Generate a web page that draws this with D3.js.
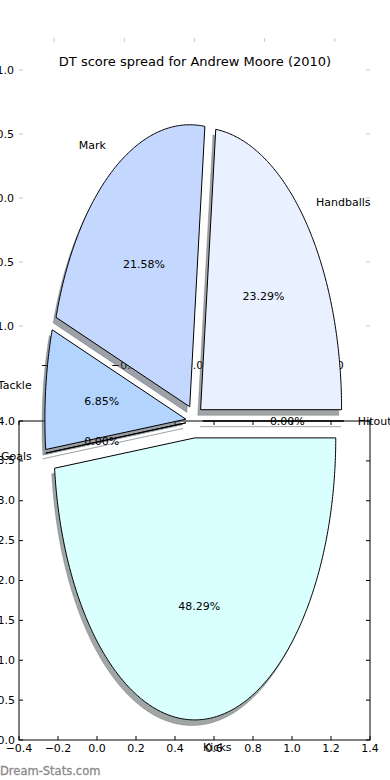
<!DOCTYPE html>
<html lang="en">
<head>
    <meta charset="UTF-8">
    <title>DT score spread</title>
    <script src="https://cdn.jsdelivr.net/npm/d3@7"></script>
    <style>
        body { margin: 0; background: #fff; }
        text { font-family: "DejaVu Sans", sans-serif; }
    </style>
</head>
<body>
<script>
    // pie data (percent of DT score), matplotlib order: counter-clockwise from 3 o'clock
    const categories = ['Handballs', 'Mark', 'Tackle', 'Goals', 'Kicks', 'Hitout']
    const shares = [23.29, 21.58, 6.85, 0.00, 48.29, 0.00]
    const colors = ['#e9f0ff', '#c4d8ff', '#b3d4ff', '#b3d4ff', '#d9ffff', '#d9ffff']
    const explode = 0.06

    // tick labels
    const upperTicks = [-1.0, -0.5, 0.0, 0.5, 1.0]
    const lowerXTicks = [-0.4, -0.2, 0.0, 0.2, 0.4, 0.6, 0.8, 1.0, 1.2, 1.4]
    const lowerYTicks = [0.0, 0.5, 1.0, 1.5, 2.0, 2.5, 3.0, 3.5, 4.0]

    const [width, height] = [390, 780]
    const fs = 11
    const fmt = d3.format('.1f')
    const minus = s => s.replace('-', '\u2212')

    const svg = d3.select('body').append('svg')
        .attr('width', width)
        .attr('height', height)

    // upper (frameless) axes
    const ux = d3.scaleLinear().domain([-1.25, 1.25]).range([19, 370])
    const uy = d3.scaleLinear().domain([-1.25, 1.25]).range([358, 38])
    const upper = svg.append('g')
    upper.selectAll('line.ty').data(upperTicks).enter().append('line')
        .attr('x1', d => ux(d)).attr('x2', d => ux(d))
        .attr('y1', uy(1.25)).attr('y2', uy(1.25) + 4)
        .attr('stroke', '#c8c8c8')
    upper.selectAll('line.ly').data(upperTicks).enter().append('line')
        .attr('x1', ux(-1.25)).attr('x2', ux(-1.25) + 4)
        .attr('y1', d => uy(d)).attr('y2', d => uy(d))
        .attr('stroke', '#c8c8c8')
    upper.selectAll('line.ry').data(upperTicks).enter().append('line')
        .attr('x1', ux(1.25) - 4).attr('x2', ux(1.25))
        .attr('y1', d => uy(d)).attr('y2', d => uy(d))
        .attr('stroke', '#c8c8c8')
    upper.selectAll('text.yl').data(upperTicks).enter().append('text')
        .attr('x', ux(-1.25) - 5).attr('y', d => uy(d))
        .attr('text-anchor', 'end').attr('dominant-baseline', 'central')
        .attr('font-size', fs).text(d => minus(fmt(d)))
    upper.selectAll('text.xl').data(upperTicks).enter().append('text')
        .attr('x', d => ux(d)).attr('y', uy(-1.25) + 11)
        .attr('text-anchor', 'middle')
        .attr('font-size', fs).text(d => minus(fmt(d)))

    // lower (empty) axes
    const lx = d3.scaleLinear().domain([-0.4, 1.4]).range([19, 370])
    const ly = d3.scaleLinear().domain([0, 4]).range([740, 421])
    const lower = svg.append('g')
    lower.append('rect')
        .attr('x', lx(-0.4)).attr('y', ly(4))
        .attr('width', lx(1.4) - lx(-0.4)).attr('height', ly(0) - ly(4))
        .attr('fill', 'none').attr('stroke', '#000')
    lowerXTicks.forEach(t => {
        lower.append('line').attr('x1', lx(t)).attr('x2', lx(t))
            .attr('y1', ly(0)).attr('y2', ly(0) - 4).attr('stroke', '#000')
        lower.append('line').attr('x1', lx(t)).attr('x2', lx(t))
            .attr('y1', ly(4)).attr('y2', ly(4) + 4).attr('stroke', '#000')
    })
    lowerYTicks.forEach(t => {
        lower.append('line').attr('x1', lx(-0.4)).attr('x2', lx(-0.4) + 4)
            .attr('y1', ly(t)).attr('y2', ly(t)).attr('stroke', '#000')
        lower.append('line').attr('x1', lx(1.4) - 4).attr('x2', lx(1.4))
            .attr('y1', ly(t)).attr('y2', ly(t)).attr('stroke', '#000')
    })
    lower.selectAll('text.xl').data(lowerXTicks).enter().append('text')
        .attr('x', d => lx(d)).attr('y', ly(0) + 12)
        .attr('text-anchor', 'middle')
        .attr('font-size', fs).text(d => minus(fmt(d)))
    lower.selectAll('text.yl').data(lowerYTicks).enter().append('text')
        .attr('x', lx(-0.4) - 4).attr('y', d => ly(d))
        .attr('text-anchor', 'end').attr('dominant-baseline', 'central')
        .attr('font-size', fs).text(d => minus(fmt(d)))

    // pie, in unit-circle coordinates stretched into an ellipse
    const cx = 194.3, cy = 421
    const px = d3.scaleLinear().domain([-1, 1]).range([cx - 141, cx + 141])
    const py = d3.scaleLinear().domain([-1, 1]).range([cy + 282, cy - 282])
    const arcs = d3.pie().sort(null).startAngle(0).endAngle(2 * Math.PI)(shares)

    const wedgePath = (a, dx, dy) => {
        const mid = (a.startAngle + a.endAngle) / 2
        const ox = explode * Math.cos(mid) + dx
        const oy = explode * Math.sin(mid) + dy
        const n = Math.max(2, Math.ceil((a.endAngle - a.startAngle) / 0.01))
        const pts = [[ox, oy]]
        for (let i = 0; i <= n; i++) {
            const t = a.startAngle + (a.endAngle - a.startAngle) * i / n
            pts.push([ox + Math.cos(t), oy + Math.sin(t)])
        }
        return d3.line().x(p => px(p[0])).y(p => py(p[1]))(pts) + 'Z'
    }
    const shade = i => {
        const c = d3.rgb(colors[i])
        return d3.rgb(c.r * 0.3, c.g * 0.3, c.b * 0.3)
    }

    const pie = svg.append('g')
    pie.selectAll('path.shadow').data(arcs).enter().append('path')
        .attr('class', 'shadow')
        .attr('d', d => wedgePath(d, -0.02, -0.02))
        .attr('fill', (d, i) => shade(i))
        .attr('fill-opacity', 0.5)
        .attr('stroke', (d, i) => shade(i))
        .attr('stroke-opacity', 0.35)
        .attr('stroke-width', 0.8)
    pie.selectAll('path.wedge').data(arcs).enter().append('path')
        .attr('class', 'wedge')
        .attr('d', d => wedgePath(d, 0, 0))
        .attr('fill', (d, i) => colors[i])
        .attr('stroke', '#000')
        .attr('stroke-width', 1)
        .attr('stroke-linejoin', 'round')

    const centre = d => {
        const mid = (d.startAngle + d.endAngle) / 2
        return [explode * Math.cos(mid), explode * Math.sin(mid), mid]
    }
    pie.selectAll('text.label').data(arcs).enter().append('text')
        .attr('x', d => { const [ox, , m] = centre(d); return px(ox + 1.1 * Math.cos(m)) })
        .attr('y', d => { const [, oy, m] = centre(d); return py(oy + 1.1 * Math.sin(m)) })
        .attr('text-anchor', d => Math.cos(centre(d)[2]) > 0 ? 'start' : 'end')
        .attr('dominant-baseline', 'central')
        .attr('font-size', fs)
        .text((d, i) => categories[i])
    pie.selectAll('text.pct').data(arcs).enter().append('text')
        .attr('x', d => { const [ox, , m] = centre(d); return px(ox + 0.6 * Math.cos(m)) })
        .attr('y', d => { const [, oy, m] = centre(d); return py(oy + 0.6 * Math.sin(m)) })
        .attr('text-anchor', 'middle')
        .attr('dominant-baseline', 'central')
        .attr('font-size', fs)
        .text(d => d3.format('.2f')(d.data) + '%')

    svg.append('text')
        .attr('x', 195).attr('y', 66)
        .attr('text-anchor', 'middle')
        .attr('font-size', 13)
        .text('DT score spread for Andrew Moore (2010)')

    svg.append('text')
        .attr('x', 0).attr('y', 775)
        .attr('font-size', 11.5)
        .attr('fill', '#8a8a8a')
        .attr('stroke', '#8a8a8a')
        .attr('stroke-width', 0.3)
        .text('Dream-Stats.com')
</script>
</body>
</html>
